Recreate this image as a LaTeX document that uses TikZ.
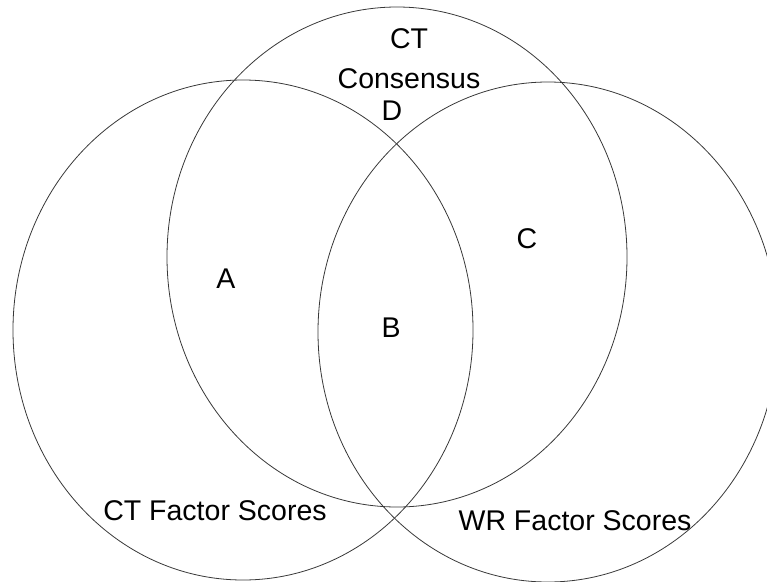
\documentclass[tikz,border=0pt]{standalone}
\usepackage{fontspec}
\setmainfont{Liberation Sans}
\usetikzlibrary{shapes.geometric}
\begin{document}
\begin{tikzpicture}[x=1pt, y=-1pt,
  setring/.style={ellipse, draw=black!78, line width=0.8pt, inner sep=0pt,
    minimum width=460pt, minimum height=500pt},
  lbl/.style={anchor=base, inner sep=0pt, font=\fontsize{28.5}{34}\selectfont}]
  \useasboundingbox (0,0) rectangle (767,581);
  \clip (0,0) rectangle (767,581);
  % the three overlapping sets
  \node[setring] (ctscores) at (243,330) {};
  \node[setring] (consensus) at (397,257) {};
  \node[setring] (wrscores) at (548,332) {};
  % set titles
  \node[lbl] (t1) at (409,48) {CT};
  \node[lbl] (t2) at (409,88) {Consensus};
  \node[lbl] (t3) at (215,520) {CT Factor Scores};
  \node[lbl] (t4) at (575,530) {WR Factor Scores};
  % region letters
  \node[lbl] (rd) at (392,120) {D};
  \node[lbl] (ra) at (226,288) {A};
  \node[lbl] (rb) at (391,337) {B};
  \node[lbl] (rc) at (527,248) {C};
\end{tikzpicture}
\end{document}
